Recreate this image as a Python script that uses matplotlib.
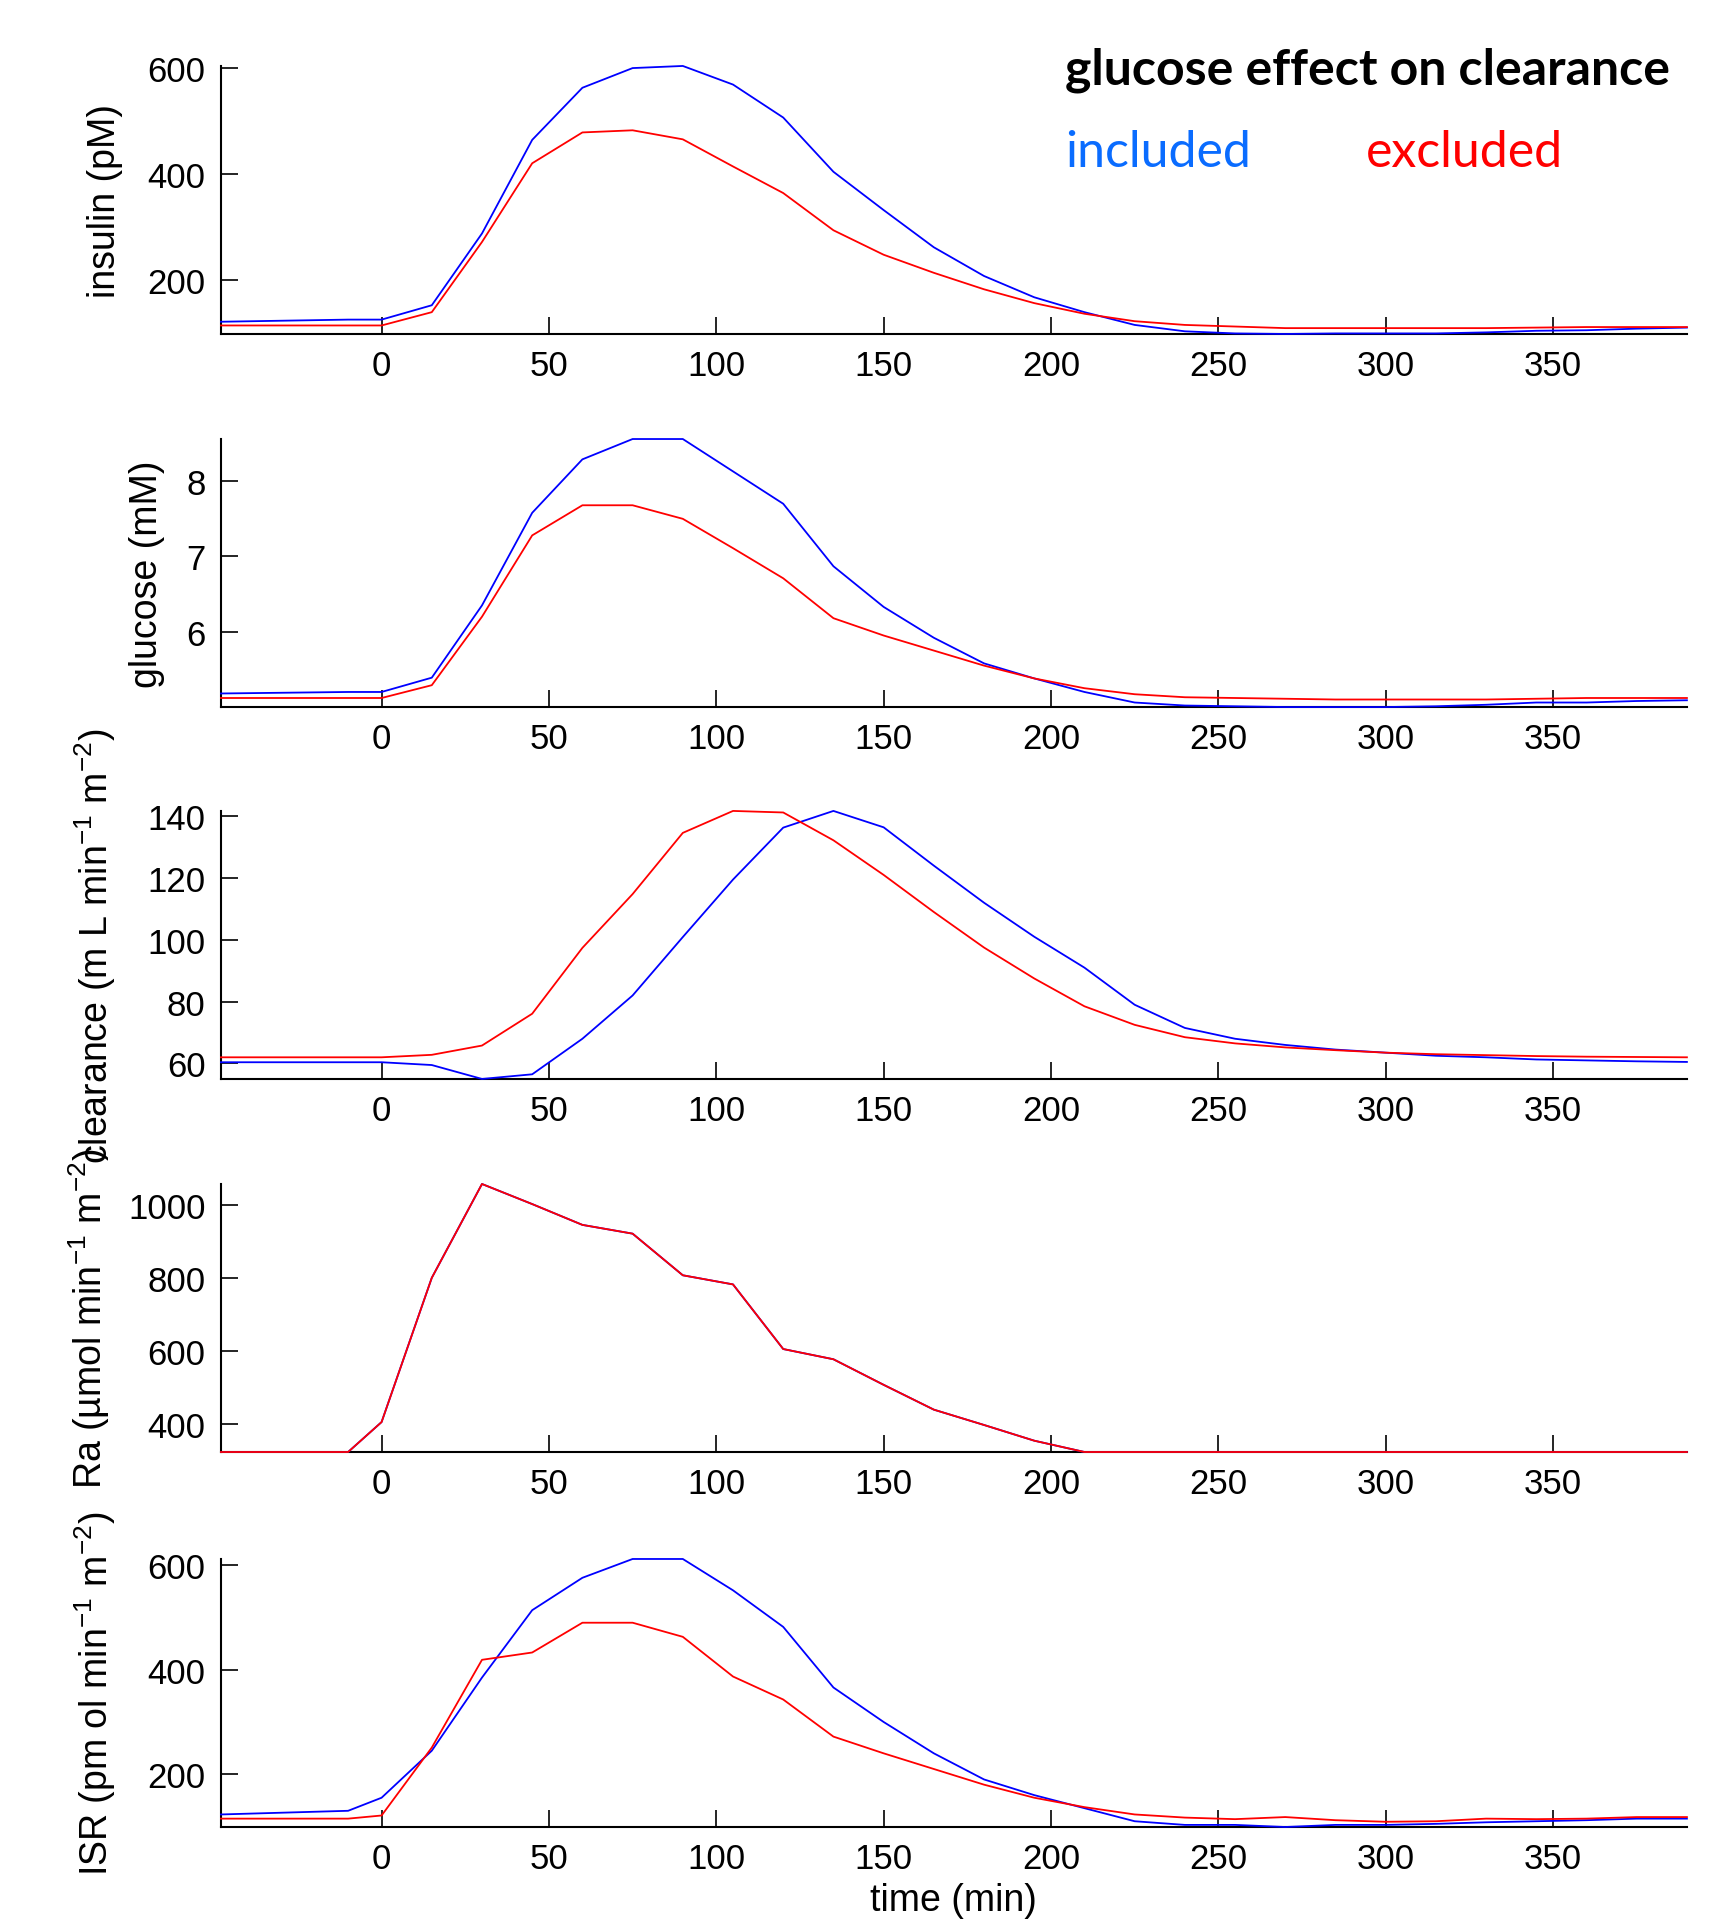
import matplotlib
matplotlib.use("Agg")
import matplotlib.pyplot as plt

plt.rcParams['font.family'] = ['Liberation Sans', 'DejaVu Sans']
plt.rcParams['mathtext.fontset'] = 'custom'
plt.rcParams['mathtext.rm'] = 'Liberation Sans'
plt.rcParams['mathtext.it'] = 'Liberation Sans:italic'

# time (min)
t = [-48, -10, 0, 15, 30, 45, 60, 75, 90, 105, 120, 135, 150, 165, 180, 195,
     210, 225, 240, 255, 270, 285, 300, 315, 330, 345, 360, 375, 390]

# glucose effect on clearance included (blue) / excluded (red)
insulin_inc = [122, 126, 126, 153, 288, 464, 562, 599, 603, 568, 506, 404, 332, 262, 208, 168,
               140, 116, 104, 100, 99, 100, 100, 100, 102, 105, 106, 109, 111]
insulin_exc = [115, 115, 115, 140, 272, 420, 478, 482, 465, 414, 364, 294, 248, 214, 183, 157,
               137, 123, 116, 113, 110, 110, 110, 110, 110, 111, 112, 112, 112]

glucose_inc = [5.18, 5.20, 5.20, 5.39, 6.35, 7.58, 8.29, 8.56, 8.56, 8.13, 7.70, 6.87, 6.33, 5.92,
               5.58, 5.38, 5.20, 5.06, 5.02, 5.01, 5.00, 5.00, 5.00, 5.01, 5.03, 5.06, 5.06, 5.08, 5.09]
glucose_exc = [5.12, 5.12, 5.12, 5.29, 6.20, 7.28, 7.68, 7.68, 7.50, 7.11, 6.71, 6.18, 5.95, 5.75,
               5.55, 5.38, 5.25, 5.17, 5.13, 5.12, 5.11, 5.10, 5.10, 5.10, 5.10, 5.11, 5.12, 5.12, 5.12]

clear_inc = [60.4, 60.4, 60.4, 59.5, 55.0, 56.5, 68, 82, 100.9, 119.5, 136.3, 141.7, 136.4, 124,
             112, 101, 91, 79, 71.5, 68, 66, 64.5, 63.5, 62.5, 62, 61.3, 61, 60.7, 60.5]
clear_exc = [62, 62, 62, 62.8, 65.8, 76.1, 97.4, 114.8, 134.6, 141.7, 141.2, 132.2, 121, 109,
             97.5, 87.5, 78.5, 72.5, 68.5, 66.5, 65.2, 64.3, 63.5, 63, 62.7, 62.4, 62.2, 62.1, 62]

ra_inc = [324, 324, 406, 801, 1058, 1003, 946, 922, 808, 783, 606, 578, 508, 440, 398, 355,
          324, 324, 324, 324, 324, 324, 324, 324, 324, 324, 324, 324, 324]
ra_exc = list(ra_inc)

isr_inc = [123, 130, 155, 245, 385, 514, 576, 612, 612, 552, 482, 366, 300, 240, 190, 160,
           135, 110, 103, 103, 99, 103, 103, 105, 108, 110, 112, 115, 115]
isr_exc = [115, 115, 121, 251, 419, 433, 490, 490, 463, 387, 343, 272, 240, 210, 180, 155,
           137, 123, 117, 114, 118, 112, 109, 110, 115, 114, 115, 118, 118]

panels = [
    (insulin_inc, insulin_exc, 'insulin (pM)', [200, 400, 600], -0.067),
    (glucose_inc, glucose_exc, 'glucose (mM)', [6, 7, 8], -0.038),
    (clear_inc, clear_exc, 'clearance (m L min$^{-1}$ m$^{-2}$)', [60, 80, 100, 120, 140], -0.070),
    (ra_inc, ra_exc, 'Ra (µmol min$^{-1}$ m$^{-2}$)', [400, 600, 800, 1000], -0.074),
    (isr_inc, isr_exc, 'ISR (pm ol min$^{-1}$ m$^{-2}$)', [200, 400, 600], -0.070),
]

fig = plt.figure(figsize=(17.3, 19.24), dpi=100)

left, width, height = 0.1277, 0.8474, 0.1393
bottoms = [0.8259, 0.632, 0.4387, 0.2448, 0.0499]

for (inc, exc, label, yticks, lx), b in zip(panels, bottoms):
    ax = fig.add_axes([left, b, width, height])
    ax.plot(t, inc, color='#0000ff', lw=1.3, zorder=3, clip_on=False)
    ax.plot(t, exc, color='#ff0000', lw=1.3, zorder=3, clip_on=False)
    ax.set_xlim(t[0], t[-1])
    ax.margins(y=0)
    ax.set_xticks([0, 50, 100, 150, 200, 250, 300, 350])
    ax.set_yticks(yticks)
    ax.spines['top'].set_visible(False)
    ax.spines['right'].set_visible(False)
    for s in ['left', 'bottom']:
        ax.spines[s].set_linewidth(1.5)
        ax.spines[s].set_zorder(2)
    ax.tick_params(direction='in', length=12, width=1.2, labelsize=25, pad=11)
    ax.set_ylabel(label, fontsize=27)
    ax.yaxis.set_label_coords(lx, 0.5)

ax.set_xlabel('time (min)', fontsize=27, labelpad=5)

fig.text(0.6156, 0.9636, 'glucose effect on clearance', fontsize=36, fontweight='bold',
         family=['Lato', 'DejaVu Sans'], va='center', ha='left')
fig.text(0.6156, 0.9205, 'included', fontsize=36, color='#0a6cff',
         family=['Lato', 'DejaVu Sans'], va='center', ha='left')
fig.text(0.7896, 0.9205, 'excluded', fontsize=36, color='#ff0000',
         family=['Lato', 'DejaVu Sans'], va='center', ha='left')

fig.savefig('out.png', dpi=100)
